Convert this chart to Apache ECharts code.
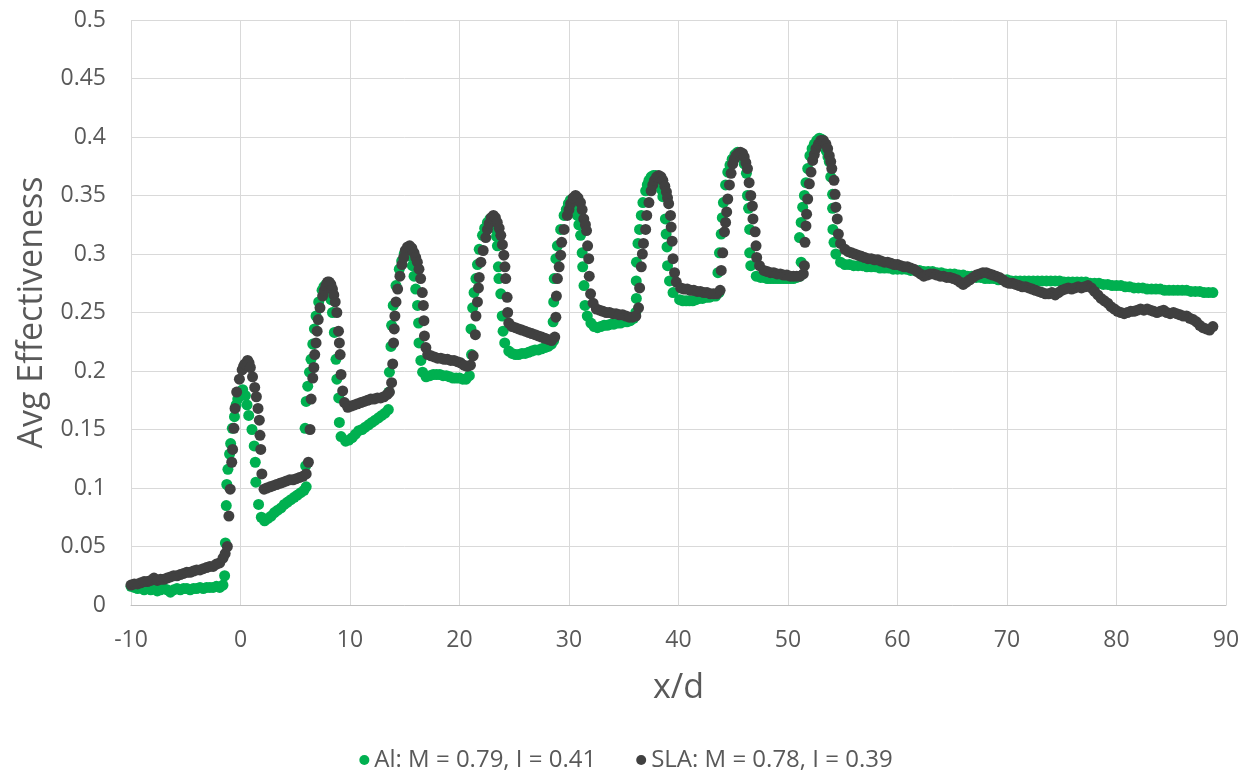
<!DOCTYPE html>
<html>
<head>
<meta charset="utf-8">
<title>Avg Effectiveness vs x/d</title>
<script src="https://cdn.jsdelivr.net/npm/echarts@6/dist/echarts.min.js"></script>
<style>
  html, body { margin: 0; padding: 0; background: #ffffff; }
  #chart { width: 1252px; height: 780px; }
</style>
</head>
<body>
<div id="chart"></div>
<script>
// Series names as shown in the legend
const seriesNames = ['Al: M = 0.79, I = 0.41', 'SLA: M = 0.78, I = 0.39'];

// Al coupon: [x/d, laterally averaged effectiveness]
const alData = [
  [-10.0,0.016],[-9.7,0.015],[-9.4,0.014],[-9.1,0.015],[-8.8,0.013],[-8.5,0.014],[-8.2,0.013],[-7.9,0.014],
  [-7.6,0.012],[-7.3,0.013],[-7.0,0.014],[-6.7,0.013],[-6.4,0.011],[-6.1,0.013],[-5.8,0.014],[-5.5,0.013],
  [-5.2,0.014],[-4.9,0.014],[-4.6,0.013],[-4.3,0.014],[-4.0,0.014],[-3.7,0.015],[-3.4,0.014],[-3.1,0.015],
  [-2.8,0.015],[-2.5,0.015],[-2.2,0.016],[-1.9,0.015],[-1.6,0.017],[-1.45,0.025],
  // row 1
  [-1.38,0.053],[-1.3,0.085],[-1.25,0.103],[-1.15,0.116],[-1.0,0.129],[-0.9,0.138],[-0.75,0.151],[-0.55,0.161],
  [-0.4,0.171],[-0.25,0.176],[-0.1,0.180],[0.05,0.183],[0.2,0.184],[0.45,0.179],[0.6,0.171],[0.75,0.162],
  [1.05,0.150],[1.25,0.136],[1.35,0.122],
  [1.4,0.105],[1.65,0.086],[1.9,0.075],[2.2,0.072],[2.5,0.074],[2.8,0.076],[3.1,0.079],[3.4,0.081],
  [3.7,0.083],[4.0,0.086],[4.3,0.088],[4.6,0.090],[4.9,0.092],[5.2,0.094],[5.5,0.096],[5.8,0.098],[6.0,0.101],
  // row 2
  [5.95,0.119],[5.9,0.151],[6.0,0.174],[6.14,0.187],[6.3,0.199],[6.44,0.210],[6.6,0.223],[6.75,0.236],
  [6.9,0.247],[7.14,0.259],[7.45,0.269],[7.62,0.272],[7.8,0.274],[7.92,0.274],[8.05,0.272],[8.17,0.267],
  [8.27,0.261],[8.4,0.250],[8.57,0.233],
  [8.72,0.210],[8.8,0.193],[8.97,0.177],[9.03,0.156],[9.18,0.144],[9.6,0.140],[9.9,0.141],[10.2,0.143],
  [10.5,0.146],[10.8,0.149],[11.1,0.150],[11.4,0.152],[11.7,0.154],[12.0,0.156],[12.3,0.158],[12.6,0.160],
  [12.9,0.162],[13.2,0.164],[13.5,0.167],
  // row 3
  [13.55,0.182],[13.6,0.199],[13.74,0.221],[13.8,0.239],[13.95,0.256],[14.2,0.273],[14.5,0.287],[14.72,0.294],
  [14.95,0.300],[15.18,0.302],[15.4,0.303],[15.55,0.298],[15.7,0.290],[15.85,0.281],[16.0,0.270],[16.17,0.256],
  [16.26,0.241],[16.3,0.224],[16.47,0.209],[16.63,0.199],
  [16.95,0.195],[17.3,0.196],[17.6,0.197],[17.9,0.197],[18.2,0.197],[18.5,0.196],[18.8,0.196],[19.1,0.195],
  [19.4,0.194],[19.7,0.194],[20.0,0.194],[20.3,0.193],[20.6,0.193],[20.9,0.196],
  // row 4
  [21.1,0.214],[21.05,0.236],[21.2,0.254],[21.33,0.267],[21.5,0.279],[21.64,0.291],[21.8,0.304],[22.1,0.316],
  [22.3,0.322],[22.55,0.327],[22.78,0.330],[23.0,0.331],[23.15,0.328],[23.3,0.322],[23.38,0.315],[23.46,0.307],
  [23.55,0.289],[23.6,0.279],[23.77,0.266],[23.9,0.247],
  [23.98,0.234],[24.13,0.224],[24.5,0.217],[24.8,0.215],[25.1,0.214],[25.4,0.214],[25.7,0.215],[26.0,0.215],
  [26.3,0.216],[26.6,0.217],[26.9,0.218],[27.2,0.218],[27.5,0.219],[27.8,0.220],[28.1,0.221],[28.4,0.223],[28.6,0.226],
  // row 5
  [28.55,0.242],[28.6,0.259],[28.65,0.279],[28.8,0.296],[28.94,0.307],[29.24,0.321],[29.55,0.333],[29.75,0.338],
  [29.94,0.343],[30.12,0.346],[30.3,0.347],[30.43,0.346],[30.55,0.344],[30.66,0.339],[30.76,0.333],[30.9,0.325],
  [31.06,0.316],[31.2,0.301],[31.25,0.289],[31.37,0.273],[31.46,0.256],
  [31.67,0.247],[32.0,0.241],[32.3,0.238],[32.6,0.237],[32.9,0.238],[33.2,0.239],[33.5,0.239],[33.8,0.240],
  [34.1,0.240],[34.4,0.241],[34.7,0.241],[35.0,0.242],[35.3,0.242],[35.6,0.243],[35.9,0.245],[36.1,0.250],
  // row 6
  [36.15,0.262],[36.14,0.277],[36.16,0.293],[36.3,0.309],[36.44,0.321],[36.6,0.333],[36.75,0.344],[37.0,0.354],
  [37.15,0.359],[37.3,0.363],[37.5,0.366],[37.7,0.367],[37.9,0.367],[38.1,0.365],[38.3,0.360],[38.45,0.355],
  [38.57,0.349],[38.8,0.330],[38.87,0.317],[38.95,0.306],[39.0,0.290],
  [39.18,0.277],[39.5,0.267],[40.1,0.261],[40.4,0.260],[40.7,0.260],[41.0,0.260],[41.3,0.260],[41.6,0.261],
  [41.9,0.262],[42.2,0.262],[42.5,0.263],[42.8,0.263],[43.1,0.264],[43.4,0.264],[43.7,0.267],
  // row 7
  [43.6,0.284],[43.74,0.301],[43.9,0.317],[44.0,0.331],[44.1,0.344],[44.3,0.359],[44.5,0.370],[44.7,0.376],
  [44.9,0.381],[45.15,0.385],[45.4,0.387],[45.6,0.386],[45.8,0.383],[46.0,0.377],[46.2,0.369],[46.3,0.350],
  [46.4,0.339],[46.5,0.321],[46.5,0.301],[46.6,0.290],
  [47.1,0.281],[47.5,0.280],[47.8,0.280],[48.1,0.279],[48.4,0.279],[48.7,0.279],[49.0,0.279],[49.3,0.279],
  [49.6,0.279],[49.9,0.279],[50.2,0.279],[50.5,0.279],[50.8,0.280],[51.1,0.281],
  // row 8
  [51.2,0.293],[51.05,0.314],[51.2,0.327],[51.34,0.340],[51.5,0.350],[51.64,0.361],[51.8,0.373],[52.0,0.384],
  [52.2,0.390],[52.4,0.394],[52.63,0.397],[52.86,0.399],[53.08,0.398],[53.3,0.394],[53.5,0.388],[53.65,0.383],
  [53.77,0.379],[53.9,0.366],[54.07,0.351],[54.07,0.339],[54.1,0.321],
  [54.2,0.310],[54.37,0.300],[54.8,0.293],
  // downstream recovery
  [55.2,0.291],[55.6,0.291],[56.0,0.290],[56.4,0.290],[56.8,0.290],[57.2,0.289],[57.6,0.289],[58.0,0.289],
  [58.4,0.288],[58.8,0.288],[59.2,0.288],[59.6,0.287],[60.0,0.287],[60.4,0.287],[60.8,0.287],[61.2,0.286],
  [61.6,0.286],[62.0,0.286],[62.4,0.285],[62.8,0.285],[63.2,0.285],[63.6,0.284],[64.0,0.284],[64.4,0.283],
  [64.8,0.283],[65.2,0.283],[65.6,0.282],[66.0,0.282],[66.4,0.281],[66.8,0.281],[67.2,0.280],[67.6,0.280],
  [68.0,0.279],[68.4,0.279],[68.8,0.279],[69.2,0.278],[69.6,0.278],[70.0,0.278],[70.4,0.277],[70.8,0.277],
  [71.2,0.277],[71.6,0.277],[72.0,0.277],[72.4,0.277],[72.8,0.277],[73.2,0.277],[73.6,0.277],[74.0,0.277],
  [74.4,0.277],[74.8,0.277],[75.2,0.276],[75.6,0.276],[76.0,0.276],[76.4,0.276],[76.8,0.276],[77.2,0.276],
  [77.6,0.275],[78.0,0.275],[78.4,0.275],[78.8,0.274],[79.2,0.274],[79.6,0.273],[80.0,0.273],[80.4,0.273],
  [80.8,0.272],[81.2,0.272],[81.6,0.271],[82.0,0.271],[82.4,0.271],[82.8,0.270],[83.2,0.270],[83.6,0.270],
  [84.0,0.270],[84.4,0.269],[84.8,0.269],[85.2,0.269],[85.6,0.269],[86.0,0.269],[86.4,0.269],[86.8,0.268],
  [87.2,0.268],[87.6,0.268],[88.0,0.267],[88.4,0.267],[88.8,0.267]
];

// SLA coupon: [x/d, laterally averaged effectiveness]
const slaData = [
  [-10.0,0.017],[-9.7,0.018],[-9.4,0.018],[-9.1,0.019],[-8.8,0.020],[-8.5,0.020],[-8.2,0.021],[-7.9,0.023],
  [-7.6,0.021],[-7.3,0.022],[-7.0,0.022],[-6.7,0.023],[-6.4,0.024],[-6.1,0.025],[-5.8,0.025],[-5.5,0.026],
  [-5.2,0.027],[-4.9,0.028],[-4.6,0.028],[-4.3,0.029],[-4.0,0.030],[-3.7,0.030],[-3.4,0.031],[-3.1,0.032],
  [-2.8,0.033],[-2.5,0.033],[-2.2,0.035],[-1.9,0.036],[-1.6,0.040],[-1.4,0.044],[-1.2,0.050],
  // row 1
  [-1.06,0.076],[-0.94,0.099],[-0.8,0.122],[-0.72,0.133],[-0.6,0.151],[-0.5,0.168],[-0.35,0.182],[-0.1,0.193],
  [0.15,0.201],[0.28,0.204],[0.4,0.206],[0.65,0.209],[0.78,0.207],[0.9,0.203],[1.1,0.195],[1.3,0.186],
  [1.45,0.178],[1.6,0.168],
  [1.72,0.158],[1.78,0.145],[1.85,0.133],[1.95,0.112],[2.15,0.099],[2.4,0.100],[2.7,0.101],[3.0,0.102],
  [3.3,0.103],[3.6,0.104],[3.9,0.105],[4.2,0.106],[4.5,0.107],[4.8,0.107],[5.1,0.108],[5.4,0.109],
  [5.7,0.110],[6.0,0.112],[6.2,0.122],
  // row 2
  [6.35,0.150],[6.45,0.176],[6.6,0.194],[6.7,0.203],[6.78,0.214],[6.9,0.224],[7.0,0.234],[7.1,0.244],
  [7.26,0.254],[7.5,0.264],[7.65,0.269],[7.8,0.273],[7.95,0.276],[8.1,0.276],[8.25,0.274],[8.4,0.270],
  [8.52,0.265],[8.65,0.259],[8.8,0.250],[8.95,0.234],
  [9.03,0.224],[9.1,0.214],[9.18,0.197],[9.33,0.183],[9.5,0.173],[9.8,0.169],[10.1,0.170],[10.4,0.171],
  [10.7,0.172],[11.0,0.173],[11.3,0.174],[11.6,0.175],[11.9,0.176],[12.2,0.176],[12.5,0.177],[12.8,0.177],
  [13.1,0.178],[13.4,0.180],[13.6,0.182],
  // row 3
  [13.8,0.190],[13.9,0.206],[13.98,0.224],[14.04,0.236],[14.1,0.247],[14.2,0.259],[14.35,0.270],[14.56,0.281],
  [14.74,0.291],[14.9,0.297],[15.05,0.303],[15.25,0.306],[15.45,0.307],[15.65,0.305],[15.85,0.301],[16.0,0.297],
  [16.15,0.293],[16.3,0.287],[16.45,0.279],[16.6,0.267],[16.7,0.256],
  [16.75,0.243],[16.8,0.230],[16.93,0.220],[17.1,0.214],[17.4,0.213],[17.7,0.212],[18.0,0.211],[18.3,0.211],
  [18.6,0.210],[18.9,0.210],[19.2,0.209],[19.5,0.209],[19.8,0.208],[20.1,0.207],[20.4,0.205],[20.7,0.204],
  [21.0,0.205],[21.25,0.213],
  // row 4
  [21.45,0.231],[21.5,0.247],[21.64,0.259],[21.73,0.271],[21.8,0.280],[21.95,0.293],[22.16,0.303],[22.4,0.314],
  [22.55,0.321],[22.7,0.326],[22.9,0.331],[23.1,0.333],[23.28,0.331],[23.45,0.327],[23.62,0.322],[23.77,0.316],
  [23.92,0.308],[24.05,0.299],[24.15,0.289],[24.22,0.279],[24.35,0.263],
  [24.4,0.250],[24.5,0.241],[24.8,0.238],[25.1,0.237],[25.4,0.236],[25.7,0.235],[26.0,0.234],[26.3,0.233],
  [26.6,0.232],[26.9,0.231],[27.2,0.230],[27.5,0.229],[27.8,0.228],[28.1,0.227],[28.4,0.226],[28.7,0.229],
  // row 5
  [28.8,0.246],[28.85,0.264],[28.94,0.279],[29.1,0.289],[29.24,0.299],[29.33,0.310],[29.55,0.321],[29.85,0.333],
  [30.0,0.338],[30.15,0.343],[30.38,0.348],[30.6,0.350],[30.82,0.348],[31.05,0.344],[31.2,0.338],[31.35,0.330],
  [31.5,0.325],[31.6,0.320],[31.7,0.307],[31.8,0.296],[31.85,0.281],
  [31.97,0.266],[32.2,0.258],[32.5,0.253],[32.8,0.252],[33.1,0.251],[33.4,0.250],[33.7,0.250],[34.0,0.249],
  [34.3,0.249],[34.6,0.248],[34.9,0.248],[35.2,0.247],[35.5,0.246],[35.8,0.246],[36.1,0.247],[36.35,0.254],
  // row 6
  [36.45,0.271],[36.6,0.289],[36.7,0.300],[36.8,0.309],[37.0,0.321],[37.1,0.333],[37.3,0.344],[37.5,0.354],
  [37.65,0.359],[37.8,0.363],[38.0,0.366],[38.2,0.367],[38.4,0.366],[38.57,0.363],[38.75,0.358],[38.9,0.353],
  [39.0,0.348],[39.1,0.343],[39.27,0.333],[39.33,0.323],[39.42,0.311],
  [39.5,0.296],[39.64,0.284],[39.8,0.276],[40.2,0.271],[40.5,0.270],[40.8,0.270],[41.1,0.269],[41.4,0.269],
  [41.7,0.268],[42.0,0.268],[42.3,0.267],[42.6,0.267],[42.9,0.266],[43.2,0.266],[43.5,0.266],[43.8,0.269],
  // row 7
  [43.9,0.286],[44.04,0.301],[44.2,0.319],[44.3,0.327],[44.4,0.336],[44.5,0.347],[44.65,0.359],[44.8,0.369],
  [44.95,0.377],[45.1,0.381],[45.26,0.384],[45.45,0.386],[45.65,0.387],[45.85,0.386],[46.0,0.383],[46.15,0.378],
  [46.3,0.373],[46.45,0.361],[46.6,0.350],[46.75,0.341],
  [46.8,0.330],[47.0,0.319],[47.08,0.307],[47.14,0.297],[47.4,0.290],[47.8,0.286],[48.1,0.285],[48.4,0.284],
  [48.7,0.284],[49.0,0.283],[49.3,0.283],[49.6,0.282],[49.9,0.282],[50.2,0.281],[50.5,0.281],[50.8,0.281],
  [51.1,0.281],[51.4,0.283],
  // row 8
  [51.5,0.290],[51.55,0.310],[51.64,0.324],[51.7,0.334],[51.8,0.347],[51.95,0.360],[52.1,0.370],[52.25,0.380],
  [52.4,0.385],[52.55,0.390],[52.78,0.394],[53.0,0.397],[53.23,0.397],[53.46,0.394],[53.62,0.390],[53.77,0.384],
  [53.9,0.379],[54.0,0.373],[54.2,0.363],[54.3,0.351],[54.37,0.340],
  [54.5,0.330],[54.6,0.317],[54.8,0.309],[55.2,0.304],
  // downstream recovery
  [55.5,0.302],[55.8,0.301],[56.1,0.300],[56.4,0.299],[56.7,0.298],[57.0,0.297],[57.3,0.296],[57.6,0.296],
  [57.9,0.295],[58.2,0.295],[58.5,0.294],[58.8,0.293],[59.1,0.293],[59.4,0.292],[59.7,0.291],[60.0,0.291],
  [60.3,0.290],[60.6,0.289],[60.9,0.289],[61.2,0.288],[61.5,0.287],[61.8,0.285],[62.1,0.283],[62.4,0.281],
  [62.7,0.282],[63.0,0.283],[63.3,0.283],[63.6,0.282],[63.9,0.281],[64.2,0.281],[64.5,0.280],[64.8,0.280],
  [65.1,0.279],[65.4,0.278],[65.7,0.276],[66.0,0.274],[66.3,0.276],[66.6,0.278],[66.9,0.280],[67.2,0.282],
  [67.5,0.283],[67.8,0.284],[68.1,0.284],[68.4,0.283],[68.7,0.282],[69.0,0.281],[69.3,0.280],[69.6,0.278],
  [69.9,0.276],[70.2,0.275],[70.5,0.275],[70.8,0.274],[71.1,0.273],[71.4,0.272],[71.7,0.272],[72.0,0.271],
  [72.3,0.270],[72.6,0.269],[72.9,0.268],[73.2,0.267],[73.5,0.266],[73.8,0.266],[74.1,0.267],[74.4,0.265],
  [74.7,0.267],[75.0,0.269],[75.3,0.270],[75.6,0.271],[75.9,0.270],[76.2,0.271],[76.5,0.272],[76.8,0.271],
  [77.1,0.272],[77.4,0.273],[77.7,0.271],[78.0,0.268],[78.3,0.265],[78.6,0.262],[78.9,0.260],[79.2,0.258],
  [79.5,0.255],[79.8,0.253],[80.1,0.251],[80.4,0.250],[80.7,0.249],[81.0,0.250],[81.3,0.251],[81.6,0.251],
  [81.9,0.252],[82.2,0.253],[82.5,0.252],[82.8,0.253],[83.1,0.252],[83.4,0.251],[83.7,0.250],[84.0,0.251],
  [84.3,0.252],[84.6,0.250],[84.9,0.249],[85.2,0.250],[85.5,0.249],[85.8,0.248],[86.1,0.247],[86.4,0.247],
  [86.7,0.245],[87.0,0.244],[87.3,0.242],[87.6,0.239],[87.9,0.237],[88.2,0.236],[88.5,0.235],[88.8,0.238]
];

// Axis ranges and tick spacing
const xRange = [-10, 90, 10];
const yRange = [0, 0.5, 0.05];

const FONT = '"Open Sans", "Noto Sans", sans-serif';
const TEXT = '#595959';
const GRID = '#d9d9d9';
const colors = ['#00b050', '#404040'];

const chart = echarts.init(document.getElementById('chart'), null, { renderer: 'canvas' });

chart.setOption({
  animation: false,
  backgroundColor: '#ffffff',
  color: colors,
  textStyle: { fontFamily: FONT },
  grid: { left: 131, right: 26, top: 20, bottom: 175, containLabel: false },
  legend: {
    bottom: 3,
    left: 'center',
    itemGap: 40,
    itemWidth: 10,
    itemHeight: 10,
    icon: 'circle',
    textStyle: { color: TEXT, fontSize: 24, fontFamily: FONT },
    data: seriesNames
  },
  xAxis: {
    type: 'value',
    min: xRange[0],
    max: xRange[1],
    interval: xRange[2],
    name: 'x/d',
    nameLocation: 'middle',
    nameGap: 66,
    nameTextStyle: { color: TEXT, fontSize: 34, fontFamily: FONT },
    axisLine: { show: true, onZero: false, lineStyle: { color: '#bfbfbf', width: 1 } },
    axisTick: { show: false },
    axisLabel: { color: TEXT, fontSize: 23, margin: 24, fontFamily: FONT },
    splitLine: { show: true, lineStyle: { color: GRID, width: 1 } }
  },
  yAxis: {
    type: 'value',
    min: yRange[0],
    max: yRange[1],
    interval: yRange[2],
    name: 'Avg Effectiveness',
    nameLocation: 'middle',
    nameGap: 82,
    nameTextStyle: { color: TEXT, fontSize: 34, fontFamily: FONT },
    axisLine: { show: false },
    axisTick: { show: false },
    axisLabel: { color: TEXT, fontSize: 23, margin: 25, fontFamily: FONT },
    splitLine: { show: true, lineStyle: { color: GRID, width: 1 } }
  },
  series: [
    {
      name: seriesNames[0],
      type: 'scatter',
      data: alData,
      symbol: 'circle',
      symbolSize: 11,
      itemStyle: { color: colors[0], opacity: 1 },
      z: 2
    },
    {
      name: seriesNames[1],
      type: 'scatter',
      data: slaData,
      symbol: 'circle',
      symbolSize: 11,
      itemStyle: { color: colors[1], opacity: 1 },
      z: 3
    }
  ]
});
</script>
</body>
</html>
